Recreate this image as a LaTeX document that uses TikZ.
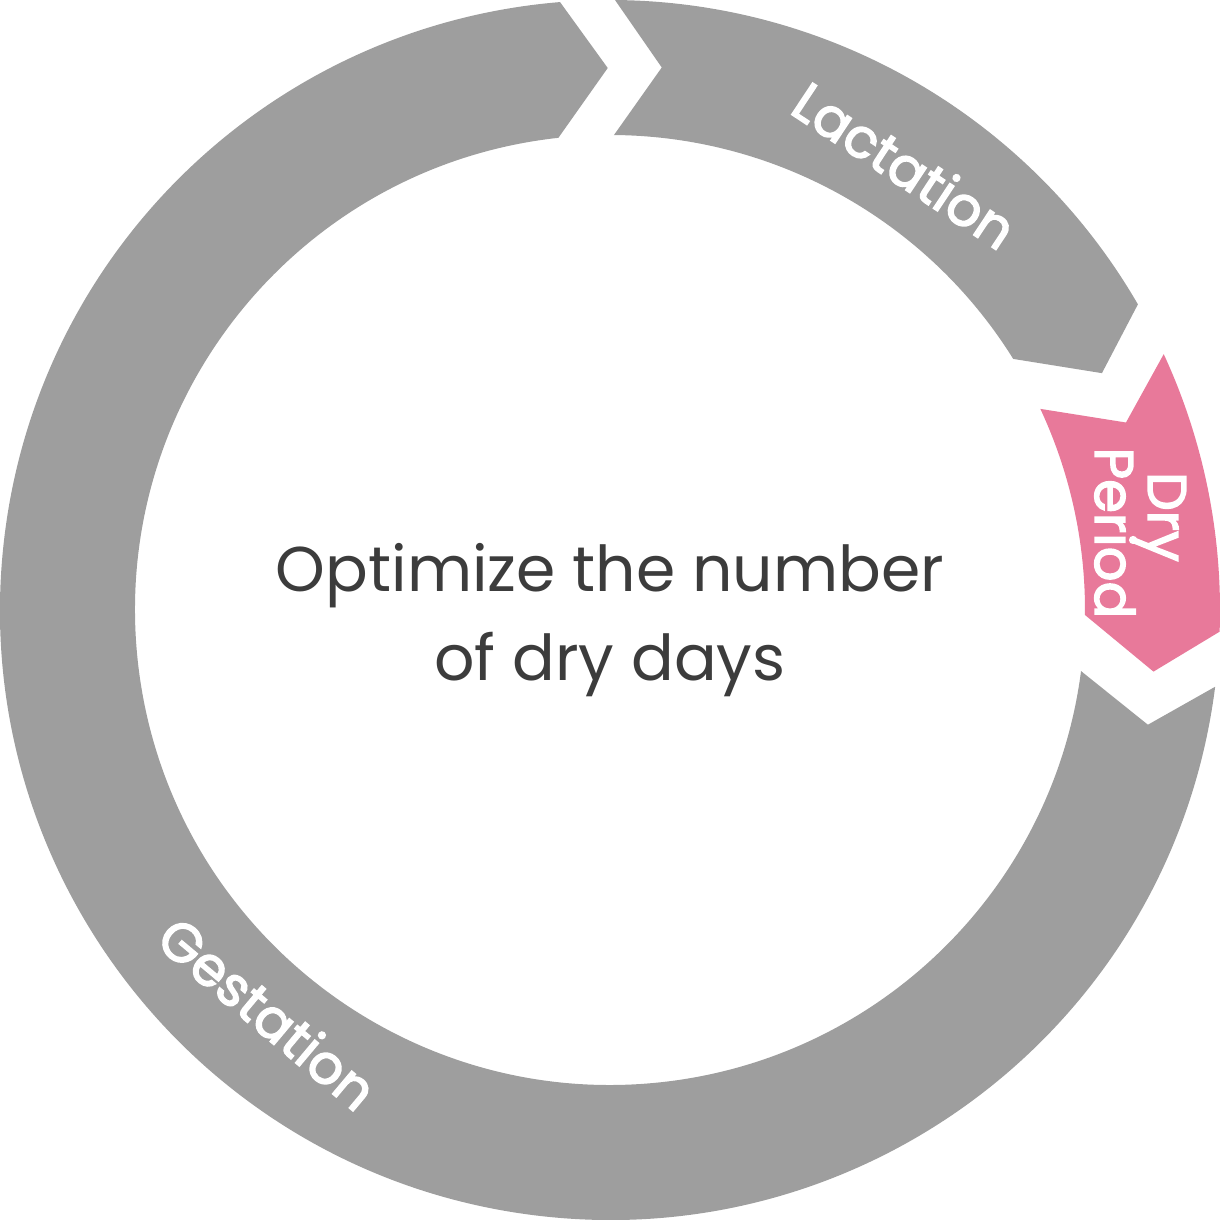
\documentclass[tikz,border=0pt]{standalone}
\usepackage{fontspec}
\usetikzlibrary{calc}
\setmainfont{Poppins}
\newfontfamily\labelfont{Poppins}[FakeBold=2.6]
\definecolor{ringgray}{HTML}{9E9E9E}
\definecolor{drypink}{HTML}{E8799A}
\definecolor{txtdark}{HTML}{3C3C3C}
\begin{document}
\begin{tikzpicture}[x=0.1mm,y=0.1mm,
  seg/.style={draw=none},
  lbl/.style={text=white,font=\labelfont\fontsize{15.5}{17}\selectfont,align=center,inner sep=0pt},
  ctr/.style={text=txtdark,font=\fontsize{18}{25.5}\selectfont,align=center,inner sep=0pt}]
\useasboundingbox (0,0) rectangle (1220,1220);
\coordinate (C) at (610,610);
% Lactation
\fill[ringgray,seg] ($(C)+(89.53:610)$) coordinate (la1)
  arc[start angle=89.53,end angle=30.07,radius=610]
  -- ($(C)+(25.71:546)$) coordinate (latip)
  -- ($(C)+(31.91:475)$)
  arc[start angle=31.91,end angle=89.52,radius=475]
  -- ($(C)+(84.55:545)$) coordinate (lanotch) -- cycle;
% Dry period
\fill[drypink,seg] ($(C)+(24.80:610)$) coordinate (dr1)
  arc[start angle=24.80,end angle=-2.04,radius=610]
  -- ($(C)+(-6.47:547)$) coordinate (drtip)
  -- ($(C)+(-0.60:475)$)
  arc[start angle=-0.60,end angle=25.05,radius=475]
  -- ($(C)+(19.97:549)$) coordinate (drnotch) -- cycle;
% Gestation
\fill[ringgray,seg] ($(C)+(-7.23:610)$) coordinate (ge1)
  arc[start angle=-7.23,end angle=-265.30,radius=610]
  -- ($(C)+(-269.76:542)$) coordinate (getip)
  -- ($(C)+(-263.76:475)$)
  arc[start angle=-263.76,end angle=-7.39,radius=475]
  -- ($(C)+(-12.04:550)$) coordinate (genotch) -- cycle;
% labels
\node[lbl,rotate=-33.5] (lact) at (905,1055) {Lactation};
\node[lbl,rotate=-40] (gest) at (268,207) {Gestation};
\node[lbl,rotate=-90,anchor=base] (dry1) at (1148,703) {Dry};
\node[lbl,rotate=-90,anchor=base] (dry2) at (1095,687) {Period};
\node[ctr] (center) at (610,600) {Optimize the number\\of dry days};
\end{tikzpicture}
\end{document}
